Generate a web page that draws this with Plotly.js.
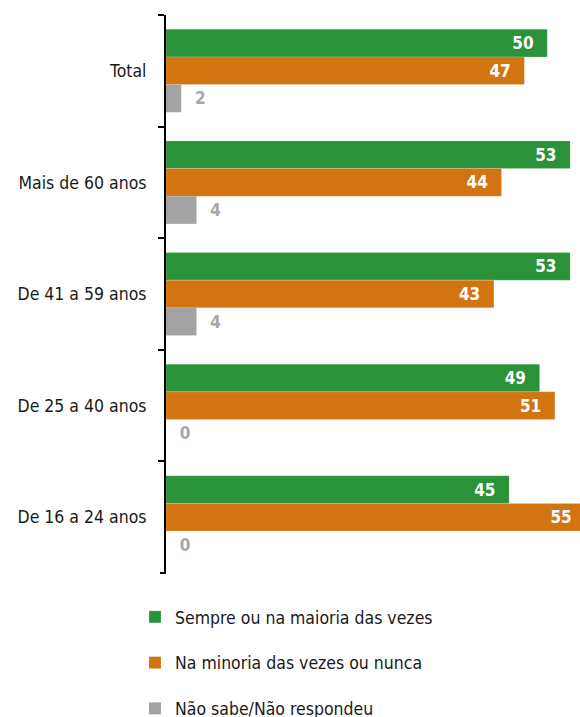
<!DOCTYPE html>
<html>
<head>
<meta charset="utf-8">
<script src="https://cdn.plot.ly/plotly-3.0.1.min.js"></script>
<style>
html,body{margin:0;padding:0;background:#fff;overflow:hidden;}
#wrap{width:580px;height:717px;overflow:hidden;}
</style>
</head>
<body>
<div id="wrap"><div id="chart"></div></div>
<script>
// Data
const categories = ["Total", "Mais de 60 anos", "De 41 a 59 anos", "De 25 a 40 anos", "De 16 a 24 anos"];
const seriesNames = ["Sempre ou na maioria das vezes", "Na minoria das vezes ou nunca", "Não sabe/Não respondeu"];
const sempre = [50, 53, 53, 49, 45];
const minoria = [47, 44, 43, 51, 55];
const naoSabe = [2, 4, 4, 0, 0];

const FONT = '"DejaVu Sans Condensed", "Liberation Sans Narrow", sans-serif';
const colors = ["#2A9238", "#D2740F", "#A3A3A3"];

function insideTrace(name, vals, color, group) {
  return {
    type: 'bar', orientation: 'h', name: name, legendgroup: group,
    y: categories, x: vals,
    marker: {color: color, line: {color: 'rgba(255,255,255,0.35)', width: 0.5}},
    text: vals.map(String),
    texttemplate: '%{text}\u2002\u2009',
    textposition: 'inside', insidetextanchor: 'end', constraintext: 'none',
    textfont: {family: FONT, size: 17, color: '#ffffff', weight: 'bold'},
    cliponaxis: false, hoverinfo: 'skip'
  };
}

const traces = [
  insideTrace(seriesNames[0], sempre, colors[0], 'g1'),
  insideTrace(seriesNames[1], minoria, colors[1], 'g2'),
  {
    type: 'bar', orientation: 'h', name: seriesNames[2], legendgroup: 'g3',
    y: categories, x: naoSabe,
    marker: {color: colors[2]},
    text: naoSabe.map(String),
    texttemplate: '\u2002\u2009%{text}',
    textposition: 'outside', constraintext: 'none',
    textfont: {family: FONT, size: 17, color: '#A8A8A8', weight: 'bold'},
    cliponaxis: false, hoverinfo: 'skip'
  }
];

const plotLeft = 166, plotTop = 14.5, plotBottom = 573;
const xMax = 56, pxPerUnit = 7.62;
const plotWidth = xMax * pxPerUnit;
const W = Math.round(plotLeft + plotWidth), H = 717;
const tickLen = 6;

const layout = {
  width: W, height: H,
  margin: {l: plotLeft, r: W - plotLeft - plotWidth, t: plotTop, b: H - plotBottom, autoexpand: false},
  paper_bgcolor: '#fff', plot_bgcolor: '#fff',
  barmode: 'group', bargap: 0.257, bargroupgap: 0,
  font: {family: FONT, size: 17.5, color: '#1a1a1a'},
  xaxis: {range: [0, xMax], showticklabels: false, showgrid: false, zeroline: false, showline: false, fixedrange: true},
  yaxis: {
    type: 'category', range: [4.5, -0.5],
    showline: true, linecolor: '#000', linewidth: 2,
    ticks: 'outside', tickson: 'boundaries', ticklen: tickLen, tickwidth: 2, tickcolor: '#000',
    ticklabelstandoff: 14,
    showgrid: false, zeroline: false,
    tickfont: {family: FONT, size: 17.5, color: '#1a1a1a'}
  },
  shapes: [{
    type: 'line', xref: 'paper', yref: 'paper',
    x0: -tickLen / plotWidth, x1: 0, y0: 0, y1: 0,
    line: {color: '#000', width: 2}, layer: 'above'
  }],
  showlegend: true,
  legend: {
    orientation: 'v', traceorder: 'grouped', tracegroupgap: 20,
    xref: 'container', yref: 'container',
    x: 135 / W, y: 1 - 599 / H, xanchor: 'left', yanchor: 'top',
    font: {family: FONT, size: 17.5, color: '#1a1a1a'},
    bgcolor: 'rgba(0,0,0,0)', borderwidth: 0
  }
};

Plotly.newPlot('chart', traces, layout, {displayModeBar: false, staticPlot: true});
</script>
</body>
</html>
